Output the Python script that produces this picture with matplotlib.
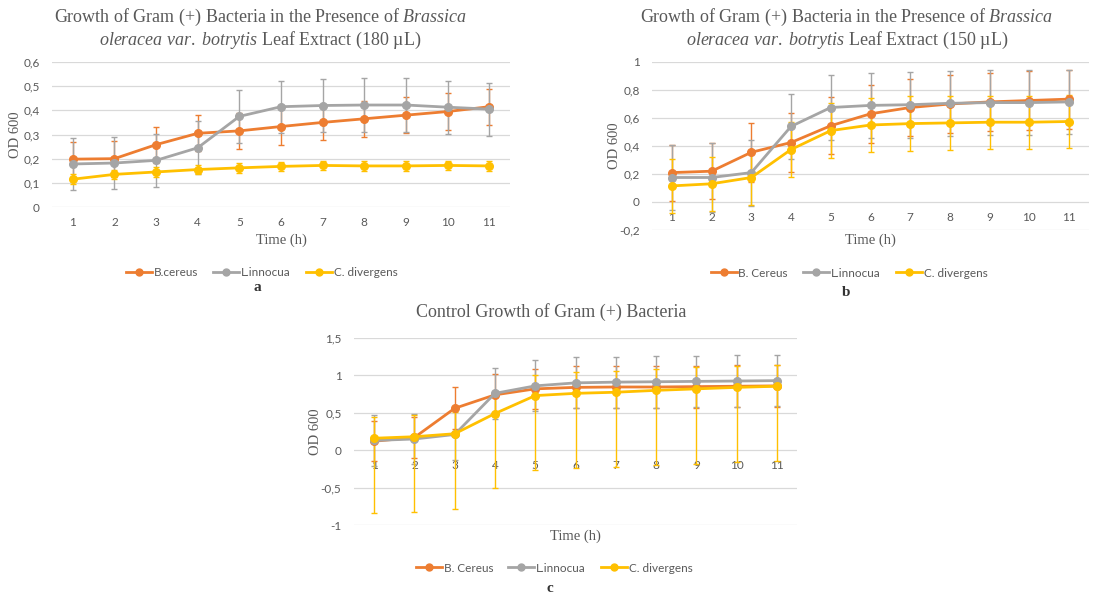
import matplotlib
matplotlib.use("Agg")
import matplotlib.pyplot as plt
from matplotlib.ticker import FuncFormatter, FixedLocator
from matplotlib.lines import Line2D

# === Data ===
hours = list(range(1, 12))

# panel a: 180 uL extract
a_cereus = [0.198, 0.200, 0.258, 0.305, 0.315, 0.333, 0.350, 0.365, 0.380, 0.395, 0.415]
a_cereus_err = [0.073, 0.075, 0.075, 0.075, 0.073, 0.075, 0.073, 0.075, 0.075, 0.075, 0.075]
a_innocua = [0.178, 0.182, 0.193, 0.245, 0.375, 0.415, 0.420, 0.422, 0.422, 0.413, 0.405]
a_innocua_err = [0.109, 0.108, 0.110, 0.110, 0.110, 0.108, 0.110, 0.110, 0.110, 0.110, 0.110]
a_diverg = [0.115, 0.135, 0.145, 0.155, 0.162, 0.168, 0.172, 0.170, 0.170, 0.172, 0.170]
a_diverg_err = [0.020, 0.020, 0.020, 0.020, 0.020, 0.020, 0.020, 0.020, 0.020, 0.020, 0.020]

# panel b: 150 uL extract
b_cereus = [0.21, 0.22, 0.355, 0.425, 0.545, 0.63, 0.675, 0.70, 0.715, 0.725, 0.735]
b_cereus_err = [0.20, 0.20, 0.21, 0.21, 0.205, 0.205, 0.205, 0.21, 0.21, 0.21, 0.21]
b_innocua = [0.175, 0.175, 0.21, 0.54, 0.675, 0.69, 0.695, 0.705, 0.71, 0.71, 0.715]
b_innocua_err = [0.235, 0.245, 0.235, 0.235, 0.23, 0.235, 0.235, 0.23, 0.23, 0.23, 0.23]
b_diverg = [0.115, 0.13, 0.175, 0.375, 0.51, 0.55, 0.56, 0.565, 0.57, 0.57, 0.575]
b_diverg_err = [0.195, 0.195, 0.195, 0.195, 0.195, 0.195, 0.195, 0.19, 0.19, 0.19, 0.19]

# panel c: control
c_cereus = [0.12, 0.17, 0.56, 0.74, 0.82, 0.84, 0.845, 0.845, 0.85, 0.855, 0.86]
c_cereus_err = [0.27, 0.28, 0.28, 0.28, 0.27, 0.28, 0.28, 0.28, 0.28, 0.28, 0.28]
c_innocua = [0.13, 0.15, 0.21, 0.76, 0.86, 0.90, 0.91, 0.915, 0.92, 0.925, 0.93]
c_innocua_err = [0.34, 0.34, 0.34, 0.34, 0.34, 0.34, 0.34, 0.345, 0.345, 0.345, 0.345]
c_diverg = [0.16, 0.18, 0.22, 0.49, 0.73, 0.76, 0.775, 0.80, 0.82, 0.84, 0.855]
c_diverg_err_low = [1.0, 1.0, 1.0, 1.0, 1.0, 1.0, 1.0, 1.0, 1.0, 1.0, 1.0]
c_diverg_err_high = [0.29, 0.29, 0.29, 0.29, 0.28, 0.29, 0.29, 0.29, 0.29, 0.29, 0.29]

ORANGE = "#ED7D31"
GRAY = "#A5A5A5"
GOLD = "#FFC000"
TXT = "#595959"
GRID = "#D9D9D9"

plt.rcParams["mathtext.fontset"] = "custom"
plt.rcParams["mathtext.rm"] = "Liberation Serif"
plt.rcParams["mathtext.it"] = "Liberation Serif:italic"

fig = plt.figure(figsize=(11.08, 5.95), dpi=100)

W, H = 1108, 595


def box(x0, y0, x1, y1):
    # pixel box (top-left origin) -> figure fraction rect
    return [x0 / W, 1 - y1 / H, (x1 - x0) / W, (y1 - y0) / H]


def comma(v, pos):
    return f"{v:g}".replace(".", ",")


def panel(rect, series, yticks, zero_axis, title, title_xy, legend_xy, label_xy, legend_names):
    ax = fig.add_axes(rect)
    handles = []
    for (vals, err, col, name) in zip(*series, legend_names):
        ax.errorbar(hours, vals, yerr=err, color=col, lw=2.0, marker="o", ms=5.5,
                    ecolor=col, elinewidth=1.0, capsize=2.5, capthick=1.0)
        handles.append(Line2D([], [], color=col, lw=2.0, marker="o", ms=5, label=name))
    ax.set_xlim(0.5, 11.5)
    ax.set_ylim(yticks[0], yticks[-1])
    ax.yaxis.set_major_locator(FixedLocator(yticks))
    ax.yaxis.set_major_formatter(FuncFormatter(comma))
    ax.set_xticks(hours)
    ax.grid(axis="y", color=GRID, lw=0.9)
    ax.set_axisbelow(True)
    for s in ax.spines.values():
        s.set_visible(False)
    if zero_axis:
        ax.spines["bottom"].set_position(("data", 0))
    ax.tick_params(length=0, labelcolor=TXT, labelsize=8.5)
    ax.tick_params(axis="y", pad=9)
    ax.tick_params(axis="x", pad=7)
    for lab in ax.get_xticklabels() + ax.get_yticklabels():
        lab.set_family("Lato")
    ax.set_xlabel("Time (h)", family="Liberation Serif", fontsize=10.5, color=TXT)
    ax.xaxis.set_label_coords(0.5, label_xy[0], transform=ax.transAxes)
    ax.xaxis.label.set_va("center")
    ax.set_ylabel("OD 600", family="Liberation Serif", fontsize=10.5, color=TXT)
    ax.yaxis.set_label_coords(label_xy[1], 0.5)
    ax.yaxis.label.set_va("center")
    ax.text(title_xy[0], title_xy[1], title, transform=ax.transAxes, ha="center", va="center",
            family="Liberation Serif", fontsize=13, color=TXT, linespacing=1.15)
    leg = ax.legend(handles=handles, loc="center", bbox_to_anchor=legend_xy, ncol=3,
                    frameon=False, prop={"family": "Lato", "size": 8.5}, handlelength=2.2,
                    columnspacing=1.3, handletextpad=0.15)
    for t in leg.get_texts():
        t.set_color(TXT)
    return ax


# panel a
panel(box(52, 62, 510, 207),
      ([a_cereus, a_innocua, a_diverg], [a_cereus_err, a_innocua_err, a_diverg_err],
       [ORANGE, GRAY, GOLD]),
      [0, 0.1, 0.2, 0.3, 0.4, 0.5, 0.6], False,
      "Growth of Gram (+) Bacteria in the Presence of $\\it{Brassica}$\n"
      "$\\it{oleracea\\ var.\\ botrytis}$ Leaf Extract (180 µL)",
      (0.454, 1.228), (0.458, -0.455), (-0.228, -0.079),
      ["B.cereus", "L.innocua", "C. divergens"])
fig.text(257 / W, 1 - 287 / H, "a", ha="center", va="center", family="Liberation Serif",
         fontsize=11, weight="bold", color="#333333")

# panel b
panel(box(652, 62, 1089, 230),
      ([b_cereus, b_innocua, b_diverg], [b_cereus_err, b_innocua_err, b_diverg_err],
       [ORANGE, GRAY, GOLD]),
      [-0.2, 0, 0.2, 0.4, 0.6, 0.8, 1.0], True,
      "Growth of Gram (+) Bacteria in the Presence of $\\it{Brassica}$\n"
      "$\\it{oleracea\\ var.\\ botrytis}$ Leaf Extract (150 µL)",
      (0.446, 1.196), (0.451, -0.256), (-0.06, -0.085),
      ["B. Cereus", "L.innocua", "C. divergens"])
fig.text(846 / W, 1 - 293 / H, "b", ha="center", va="center", family="Liberation Serif",
         fontsize=11, weight="bold", color="#333333")

# panel c
panel(box(354, 338, 797, 525),
      ([c_cereus, c_innocua, c_diverg],
       [c_cereus_err, c_innocua_err, [c_diverg_err_low, c_diverg_err_high]],
       [ORANGE, GRAY, GOLD]),
      [-1, -0.5, 0, 0.5, 1, 1.5], True,
      "Control Growth of Gram (+) Bacteria",
      (0.445, 1.139), (0.452, -0.23), (-0.059, -0.086),
      ["B. Cereus", "L.innocua", "C. divergens"])
fig.text(550 / W, 1 - 588 / H, "c", ha="center", va="center", family="Liberation Serif",
         fontsize=11, weight="bold", color="#333333")

fig.savefig("out.png", dpi=100, facecolor="white")
